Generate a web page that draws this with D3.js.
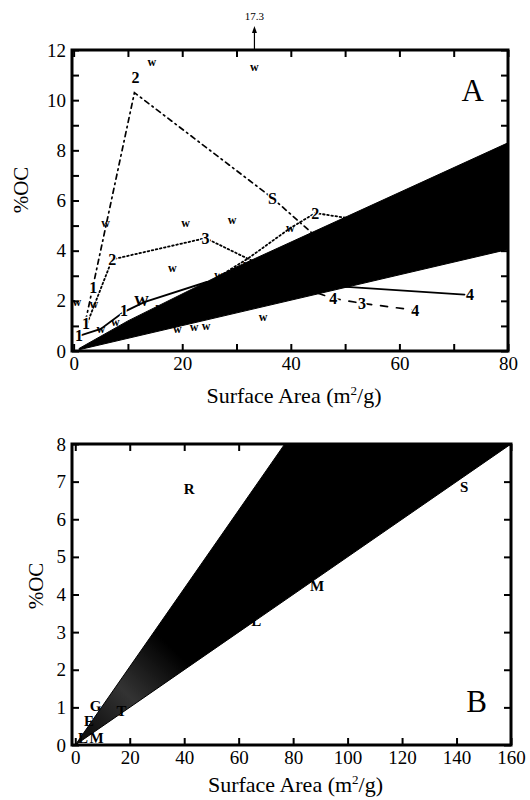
<!DOCTYPE html>
<html><head><meta charset="utf-8">
<script src="https://cdn.jsdelivr.net/npm/d3@7"></script>
<style>body{margin:0;background:#fff}svg{display:block}text{font-family:"Liberation Serif","Times New Roman",serif;fill:#000}</style>
</head><body>
<svg id="c" width="530" height="800"></svg>
<script>
// ---------- Panel A data ----------
const xTicksA = [0,10,20,30,40,50,60,70,80];
const xLabelsA = [0,20,40,60,80];
const yTicksA = [0,1,2,3,4,5,6,7,8,9,10,11,12];
const yLabelsA = [0,2,4,6,8,10,12];
const bandUpperA = [[1,0.1],[10,1.2],[30,3.35],[80,8.3]];
const bandLowerA = [[1,0.05],[80,4.05]];
const solidA = [[1.3,0.62],[5,0.88],[9.2,1.55],[13,1.95],[24.5,2.75],[51,2.55],[72,2.25]];
const dashDotA = [[2.2,1.2],[11.2,10.3],[36.6,6.1],[46,4.3]];
const dotted3A = [[2.5,1.1],[7.1,3.65],[24.3,4.5],[33.8,3.5]];
const dotted2A = [[27,3.0],[32.2,3.7],[39.9,4.9],[44.5,5.5],[50.4,5.3]];
const dashedA = [[45,2.3],[47.8,2.1],[53.1,1.9],[62.9,1.63]];
const numLabelsA = [["2",11.4,10.9],["S",36.6,6.1],["2",7.1,3.65],["3",24.3,4.5],["2",44.5,5.5],
  ["1",1.0,0.62],["1",2.3,1.1],["1",3.6,2.55],["1",9.3,1.6],
  ["4",47.8,2.1],["3",53.1,1.9],["4",62.9,1.63],["4",73,2.25]];
const wPointsA = [[14.4,11.5],[33.3,11.3],[5.9,5.1],[20.6,5.1],[29.2,5.2],[18.2,3.3],[0.6,1.95],[3.7,1.85],
  [5,0.85],[7.7,1.15],[15.9,1.75],[19.1,0.88],[22.2,0.95],[24.4,1.0],[26.7,3.0],[30.1,3.2],[32,3.45],
  [39.9,4.9],[34.9,1.35]];
const wBigA = [[12.5,2.0]];
const offscaleA = {x:33.3, value:"17.3"};

// ---------- Panel B data ----------
const xTicksB = [0,20,40,60,80,100,120,140,160];
const yTicksB = [0,1,2,3,4,5,6,7,8];
const bandUpperB = [[0,0],[160,16.64]];
const bandLowerB = [[0,0],[160,8.0]];
const labelsB = [["R",41.8,6.8],["S",142.8,6.87],["M",88.8,4.22],["L",66.5,3.3],["T",17,0.9],
  ["E",5,0.65],["G",7.5,1.05],["L",2.8,0.2],["M",7.8,0.2]];

const svg = d3.select("#c");

function panel(cfg){
  const g = svg.append("g");
  const x = d3.scaleLinear().domain(cfg.xd).range([cfg.l,cfg.r]);
  const y = d3.scaleLinear().domain(cfg.yd).range([cfg.b,cfg.t]);
  const id = "clip"+cfg.name;
  svg.append("clipPath").attr("id",id).append("rect")
    .attr("x",cfg.l).attr("y",cfg.t).attr("width",cfg.r-cfg.l).attr("height",cfg.b-cfg.t);
  const plot = g.append("g").attr("clip-path",`url(#${id})`);
  return {g,x,y,plot};
}

function axes(p,cfg){
  const {g,x,y} = p;
  const fmt = (labels)=> d => labels.includes(d) ? d : "";
  const bottom = g.append("g").attr("transform",`translate(0,${cfg.b})`)
    .call(d3.axisBottom(x).tickValues(cfg.xt).tickSizeInner(-7).tickSizeOuter(0).tickPadding(6).tickFormat(fmt(cfg.xl)));
  const top = g.append("g").attr("transform",`translate(0,${cfg.t})`)
    .call(d3.axisTop(x).tickValues(cfg.xt).tickSizeInner(-7).tickSizeOuter(0).tickFormat(""));
  const left = g.append("g").attr("transform",`translate(${cfg.l},0)`)
    .call(d3.axisLeft(y).tickValues(cfg.yt).tickSizeInner(-7).tickSizeOuter(0).tickPadding(6).tickFormat(fmt(cfg.yl)));
  const right = g.append("g").attr("transform",`translate(${cfg.r},0)`)
    .call(d3.axisRight(y).tickValues(cfg.yt).tickSizeInner(-7).tickSizeOuter(0).tickFormat(""));
  [bottom,top,left,right].forEach(a=>{
    a.select(".domain").remove();
    a.selectAll("line").attr("stroke","#000").attr("stroke-width",2);
    a.selectAll("text").attr("font-family","Liberation Serif").attr("font-size",19).attr("fill","#000");
  });
  g.append("rect").attr("x",cfg.l).attr("y",cfg.t).attr("width",cfg.r-cfg.l).attr("height",cfg.b-cfg.t)
    .attr("fill","none").attr("stroke","#000").attr("stroke-width",3);
  g.append("text").attr("x",(cfg.l+cfg.r)/2+4).attr("y",cfg.xtitleY).attr("text-anchor","middle")
    .attr("font-size",22).html('Surface Area (m<tspan dy="-8" font-size="13">2</tspan><tspan dy="8">/g)</tspan>');
  g.append("text").attr("transform",`translate(${cfg.ytitleX},${cfg.ytitleY}) rotate(-90)`)
    .attr("text-anchor","middle").attr("dy","0.35em").attr("font-size",21).text("%OC");
  g.append("text").attr("x",cfg.r-24).attr("y",cfg.letterY).attr("text-anchor","end")
    .attr("font-size",31).text(cfg.name);
}

function band(p,upper,lower,fill){
  const pts = upper.concat(lower.slice().reverse());
  p.plot.append("path").attr("d", d3.line().x(d=>p.x(d[0])).y(d=>p.y(d[1]))(pts)+"Z")
    .attr("fill",fill).attr("stroke","#000").attr("stroke-width",1);
}
function series(p,data,dash,w){
  p.plot.append("path").attr("d", d3.line().x(d=>p.x(d[0])).y(d=>p.y(d[1]))(data))
    .attr("fill","none").attr("stroke","#000").attr("stroke-width",w||1.6)
    .attr("stroke-dasharray",dash||null).attr("stroke-linecap","round");
}

// ---------- Panel A ----------
const cfgA = {name:"A",l:72,r:508,t:50,b:351,xd:[-0.3,80],yd:[0,12],xt:xTicksA,xl:xLabelsA,yt:yTicksA,yl:yLabelsA,
  xtitleY:403,ytitleX:21,ytitleY:190,letterY:101};
const A = panel(cfgA);
series(A,solidA,null,1.8);
series(A,dashDotA,"5,4,1.5,4",1.7);
series(A,dotted3A,"1.6,2.6",1.8);
series(A,dotted2A,"1.6,2.6",1.8);
series(A,dashedA,"7,9",1.7);
band(A,bandUpperA,bandLowerA,"#000");
A.g.selectAll(".num").data(numLabelsA).join("text").attr("class","num")
  .attr("x",d=>A.x(d[1])).attr("y",d=>A.y(d[2])).attr("dy","0.35em").attr("text-anchor","middle")
  .attr("font-size",16).attr("font-weight","bold").attr("stroke","#fff").attr("stroke-width",2.5)
  .attr("paint-order","stroke").text(d=>d[0]);
A.g.selectAll(".w").data(wPointsA).join("text").attr("class","w")
  .attr("x",d=>A.x(d[0])).attr("y",d=>A.y(d[1])).attr("dy","0.3em").attr("text-anchor","middle")
  .attr("font-size",12).attr("font-weight","bold").text("w");
A.g.selectAll(".wb").data(wBigA).join("text").attr("class","wb")
  .attr("x",d=>A.x(d[0])).attr("y",d=>A.y(d[1])).attr("dy","0.35em").attr("text-anchor","middle")
  .attr("font-size",15).attr("font-weight","bold").text("W");
// off-scale arrow
const ax = A.x(offscaleA.x);
A.g.append("line").attr("x1",ax).attr("x2",ax).attr("y1",cfgA.t-1).attr("y2",cfgA.t-19).attr("stroke","#000").attr("stroke-width",1.2);
A.g.append("path").attr("d",`M${ax-2.5},${cfgA.t-17}L${ax},${cfgA.t-24}L${ax+2.5},${cfgA.t-17}Z`).attr("fill","#000");
A.g.append("text").attr("x",ax).attr("y",cfgA.t-30).attr("text-anchor","middle").attr("font-size",11).text(offscaleA.value);
axes(A,cfgA);

// ---------- Panel B ----------
const cfgB = {name:"B",l:72,r:511,t:444,b:745,xd:[-1.2,160],yd:[0,8],xt:xTicksB,xl:xTicksB,yt:yTicksB,yl:yTicksB,
  xtitleY:792,ytitleX:36,ytitleY:586,letterY:712};
const B = panel(cfgB);
const defs = svg.append("defs");
const grad = defs.append("linearGradient").attr("id","bgrad").attr("gradientUnits","userSpaceOnUse")
  .attr("x1",B.x(5)).attr("y1",B.y(0.4)).attr("x2",B.x(35)).attr("y2",B.y(2.6));
grad.append("stop").attr("offset","0").attr("stop-color","#111");
grad.append("stop").attr("offset","0.45").attr("stop-color","#333");
grad.append("stop").attr("offset","1").attr("stop-color","#000");
band(B,bandUpperB,bandLowerB,"url(#bgrad)");
B.g.selectAll(".lb").data(labelsB).join("text").attr("class","lb")
  .attr("x",d=>B.x(d[1])).attr("y",d=>B.y(d[2])).attr("dy","0.35em").attr("text-anchor","middle")
  .attr("font-size",15).attr("font-weight","bold").text(d=>d[0]);
axes(B,cfgB);
</script>
</body></html>
